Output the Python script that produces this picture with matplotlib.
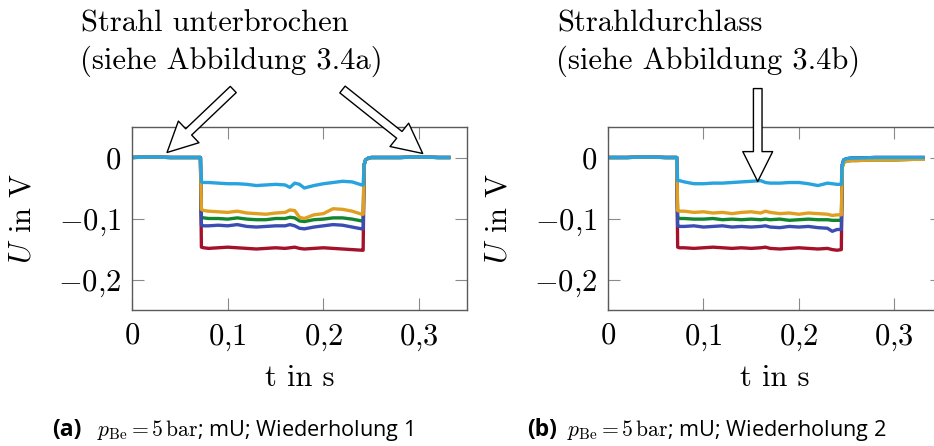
"""
Two-panel step-signal chart (U over t) with open block arrows and captions.
"""

import matplotlib
matplotlib.use("Agg")  # Non-interactive backend
import matplotlib.pyplot as plt
import matplotlib.ticker as mticker

plt.rcParams["mathtext.fontset"] = "cm"
plt.rcParams["font.family"] = "cmr10"
plt.rcParams["axes.formatter.use_mathtext"] = True

# Colours of the five traces
C_RED = "#a3122a"
C_GREEN = "#12862f"
C_BLUE = "#3a4db3"
C_ORANGE = "#e19f22"
C_LBLUE = "#27a3de"
FRAME = "#5a5a5a"
TICK = "#8a8a8a"
FS = 22

# ---- panel (a): time knots -------------------------------------------------
T_PRE_A = [0.0, 0.02, 0.04, 0.06, 0.0715]
T_LOW_A = [0.0725, 0.075, 0.08, 0.09, 0.10, 0.11, 0.12, 0.13, 0.14, 0.15, 0.16,
           0.165, 0.17, 0.175, 0.18, 0.19, 0.20, 0.21, 0.22, 0.23, 0.24, 0.2415]
T_POST_A = [0.2425, 0.244, 0.247, 0.25, 0.26, 0.28, 0.30, 0.32, 0.331]

PRE_A = [0.0, 0.001, 0.0, 0.0, 0.0]
POST_A = [-0.012, -0.004, -0.001, 0.0, 0.0, 0.0, 0.001, 0.0, 0.0]

RED_A = [-0.147, -0.148, -0.149, -0.148, -0.147, -0.148, -0.149, -0.150, -0.149, -0.148,
         -0.149, -0.148, -0.147, -0.149, -0.150, -0.149, -0.148, -0.149, -0.150, -0.151,
         -0.152, -0.152]
GREEN_A = [-0.098, -0.099, -0.100, -0.100, -0.101, -0.099, -0.101, -0.102, -0.102, -0.100,
           -0.100, -0.098, -0.099, -0.104, -0.105, -0.102, -0.101, -0.099, -0.099, -0.101,
           -0.104, -0.104]
BLUE_A = [-0.111, -0.112, -0.112, -0.111, -0.112, -0.110, -0.113, -0.114, -0.113, -0.112,
          -0.112, -0.110, -0.112, -0.116, -0.117, -0.114, -0.112, -0.110, -0.111, -0.114,
          -0.117, -0.117]
ORANGE_A = [-0.085, -0.087, -0.088, -0.089, -0.090, -0.088, -0.091, -0.092, -0.093, -0.091,
            -0.090, -0.086, -0.087, -0.098, -0.100, -0.094, -0.092, -0.084, -0.085, -0.088,
            -0.093, -0.093]
LBLUE_A = [-0.040, -0.041, -0.041, -0.042, -0.043, -0.043, -0.044, -0.046, -0.045, -0.044,
           -0.045, -0.049, -0.042, -0.044, -0.050, -0.046, -0.043, -0.041, -0.039, -0.040,
           -0.045, -0.045]

# ---- panel (b): time knots -------------------------------------------------
T_PRE_B = [0.0, 0.02, 0.04, 0.06, 0.072]
T_LOW_B = [0.073, 0.075, 0.08, 0.09, 0.10, 0.11, 0.12, 0.13, 0.14, 0.15, 0.16,
           0.165, 0.17, 0.18, 0.19, 0.20, 0.21, 0.22, 0.23, 0.235, 0.24, 0.2445]
T_POST_B = [0.2455, 0.247, 0.25, 0.255, 0.26, 0.28, 0.30, 0.32, 0.33]

PRE_B = [0.0, 0.0, 0.001, 0.0, 0.0]
POST_LB_B = [-0.012, -0.004, -0.002, -0.001, -0.001, 0.0, 0.0, 0.0, 0.0]
POST_OR_B = [-0.016, -0.008, -0.006, -0.005, -0.005, -0.004, -0.004, -0.003, -0.003]

RED_B = [-0.147, -0.148, -0.148, -0.149, -0.148, -0.147, -0.148, -0.149, -0.148, -0.149,
         -0.148, -0.147, -0.149, -0.150, -0.149, -0.148, -0.149, -0.150, -0.149, -0.151,
         -0.152, -0.151]
GREEN_B = [-0.099, -0.100, -0.100, -0.101, -0.101, -0.100, -0.102, -0.101, -0.102, -0.101,
           -0.102, -0.101, -0.102, -0.101, -0.103, -0.102, -0.101, -0.102, -0.102, -0.103,
           -0.103, -0.103]
BLUE_B = [-0.112, -0.113, -0.113, -0.112, -0.114, -0.113, -0.112, -0.114, -0.113, -0.114,
          -0.113, -0.112, -0.114, -0.115, -0.113, -0.114, -0.113, -0.115, -0.116, -0.121,
          -0.118, -0.118]
ORANGE_B = [-0.087, -0.088, -0.088, -0.090, -0.089, -0.091, -0.090, -0.092, -0.090, -0.089,
            -0.091, -0.088, -0.090, -0.092, -0.091, -0.093, -0.091, -0.092, -0.093, -0.095,
            -0.094, -0.094]
LBLUE_B = [-0.038, -0.038, -0.040, -0.043, -0.043, -0.042, -0.042, -0.041, -0.040, -0.039,
           -0.038, -0.041, -0.042, -0.042, -0.041, -0.041, -0.043, -0.046, -0.042, -0.043,
           -0.044, -0.044]

X_TICKS = [0, 0.1, 0.2, 0.3]
Y_TICKS = [0, -0.1, -0.2]


def _comma(v, pos):
    if abs(v) < 1e-9:
        return "$0$"
    return "$" + f"{v:.1f}".replace(".", "{,}") + "$"


def _style(ax):
    ax.set_xlim(0, 0.35)
    ax.set_ylim(-0.25, 0.05)
    ax.xaxis.set_major_locator(mticker.FixedLocator(X_TICKS))
    ax.yaxis.set_major_locator(mticker.FixedLocator(Y_TICKS))
    ax.xaxis.set_major_formatter(mticker.FuncFormatter(_comma))
    ax.yaxis.set_major_formatter(mticker.FuncFormatter(_comma))
    ax.tick_params(direction="in", length=8.5, width=0.8, color=TICK,
                   top=True, right=True, labelsize=FS)
    ax.tick_params(axis="x", pad=9)
    ax.tick_params(axis="y", pad=8)
    for sp in ax.spines.values():
        sp.set_color(FRAME)
        sp.set_linewidth(1.0)
    ax.set_xlabel("t in s", fontsize=FS)
    ax.xaxis.set_label_coords(0.5, -0.30)
    ax.set_ylabel("$U$ in V", fontsize=FS)
    ax.yaxis.set_label_coords(-0.285, 0.5)


def _draw(ax, t_pre, t_low, t_post, traces):
    t = t_pre + t_low + t_post
    for pre, low, post, col in traces:
        ax.plot(t, pre + low + post, color=col, lw=2.4, solid_joinstyle="round")


def _block_arrow(ax, tip, start):
    ax.annotate("", xy=tip, xytext=start, annotation_clip=False,
                arrowprops=dict(arrowstyle="simple,head_length=2.15,head_width=2.15,tail_width=0.62",
                                mutation_scale=10, fc="white", ec="black", lw=1.0,
                                shrinkA=0, shrinkB=0))


fig = plt.figure(figsize=(9.34, 4.46), dpi=100)
ax_a = fig.add_axes([132 / 934, 136 / 446, 335 / 934, 183 / 446])
ax_b = fig.add_axes([608 / 934, 136 / 446, 334 / 934, 183 / 446])

_draw(ax_a, T_PRE_A, T_LOW_A, T_POST_A, [
    (PRE_A, RED_A, POST_A, C_RED),
    (PRE_A, GREEN_A, POST_A, C_GREEN),
    (PRE_A, BLUE_A, POST_A, C_BLUE),
    (PRE_A, ORANGE_A, POST_A, C_ORANGE),
    (PRE_A, LBLUE_A, POST_A, C_LBLUE),
])
_draw(ax_b, T_PRE_B, T_LOW_B, T_POST_B, [
    (PRE_B, RED_B, POST_LB_B, C_RED),
    (PRE_B, GREEN_B, POST_OR_B, C_GREEN),
    (PRE_B, BLUE_B, POST_LB_B, C_BLUE),
    (PRE_B, ORANGE_B, POST_OR_B, C_ORANGE),
    (PRE_B, LBLUE_B, POST_LB_B, C_LBLUE),
])

for ax in (ax_a, ax_b):
    _style(ax)

# open block arrows pointing at the signal
_block_arrow(ax_a, (0.0366, 0.0082), (0.1058, 0.1115))
_block_arrow(ax_a, (0.3037, 0.0066), (0.2199, 0.1115))
_block_arrow(ax_b, (0.1569, -0.0393), (0.1569, 0.113))

# annotation texts
fig.text(81 / 934, 1 - 32 / 446, "Strahl unterbrochen", fontsize=FS, va="baseline")
fig.text(80 / 934, 1 - 69 / 446, "(siehe Abbildung 3.4a)", fontsize=FS, va="baseline")
fig.text(557 / 934, 1 - 32 / 446, "Strahldurchlass", fontsize=FS, va="baseline")
fig.text(556 / 934, 1 - 69 / 446, "(siehe Abbildung 3.4b)", fontsize=FS, va="baseline")

# sub-captions
cap_y = 1 - 436 / 446
fig.text(52 / 934, cap_y, "(a)", family="Open Sans", fontweight="bold", fontsize=16.5, va="baseline")
fig.text(97 / 934, cap_y, r"$p_{\mathrm{Be}} = 5\,\mathrm{bar}$; mU; Wiederholung 1",
         family="Open Sans", fontsize=15.6, va="baseline")
fig.text(527 / 934, cap_y, "(b)", family="Open Sans", fontweight="bold", fontsize=16.5, va="baseline")
fig.text(567 / 934, cap_y, r"$p_{\mathrm{Be}} = 5\,\mathrm{bar}$; mU; Wiederholung 2",
         family="Open Sans", fontsize=15.6, va="baseline")

fig.savefig("out.png", dpi=100, facecolor="white")
plt.close(fig)
